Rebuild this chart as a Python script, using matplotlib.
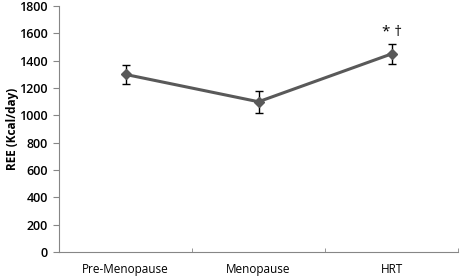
import matplotlib
matplotlib.use("Agg")
import matplotlib.pyplot as plt
from matplotlib.ticker import FixedLocator

groups = ["Pre-Menopause", "Menopause", "HRT"]
ree = [1300, 1100, 1450]
ree_err = [70, 80, 75]
y_ticks = [0, 200, 400, 600, 800, 1000, 1200, 1400, 1600, 1800]

plt.rcParams['font.family'] = ['Open Sans', 'DejaVu Sans']

fig = plt.figure(figsize=(4.61, 2.78), dpi=100)
ax = fig.add_axes([0.128, 0.0935, 0.8655, 0.8845])

x = list(range(len(groups)))
ax.errorbar(x, ree, yerr=ree_err, color='#595959', lw=2.2, marker='D', ms=5,
            ecolor='black', elinewidth=1, capsize=3, capthick=1, zorder=3)
ax.text(x[2], ree[2] + ree_err[2] + 30, "* \u2020", ha='center', va='bottom', fontsize=11)

ax.set_xlim(-0.5, len(groups) - 0.5)
ax.set_ylim(0, 1800)
ax.set_yticks(y_ticks)
ax.set_xticks(x)
ax.set_xticklabels(groups, fontsize=8.5)
ax.tick_params(axis='x', which='major', length=0, pad=8)
ax.xaxis.set_minor_locator(FixedLocator([0.5, 1.5, 2.5]))
ax.tick_params(axis='x', which='minor', length=3, color='#868686', direction='in')
ax.tick_params(axis='y', labelsize=9, length=4, color='#868686', pad=4)
for lbl in ax.get_yticklabels():
    lbl.set_fontweight('semibold')
ax.set_ylabel("REE (Kcal/day)", fontsize=8.5, fontweight='bold')
ax.yaxis.set_label_coords(-0.1, 0.5)

for s in ['top', 'right']:
    ax.spines[s].set_visible(False)
for s in ['left', 'bottom']:
    ax.spines[s].set_color('#868686')

fig.savefig("out.png", dpi=100)
